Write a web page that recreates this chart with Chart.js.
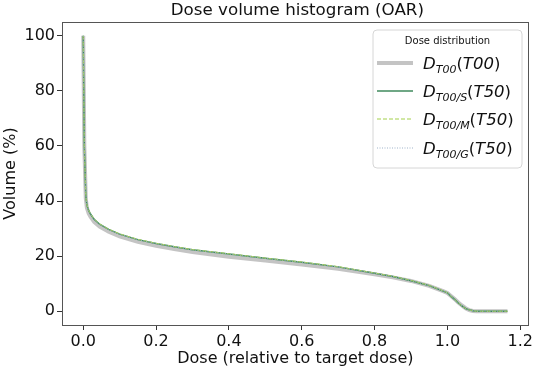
<!DOCTYPE html>
<html>
<head>
<meta charset="utf-8">
<script src="https://cdn.jsdelivr.net/npm/chart.js@4"></script>
<style>
  html, body { margin: 0; padding: 0; background: #fff; }
  #wrap { width: 535px; height: 371px; }
</style>
</head>
<body>
<div id="wrap"><canvas id="dvhChart" width="535" height="371"></canvas></div>
<script>
// dose (relative to target dose) and volume (%)
var dose   = [0, 0.003, 0.007, 0.01, 0.015, 0.02, 0.03, 0.045, 0.07, 0.1, 0.15, 0.2, 0.25, 0.3, 0.4, 0.5, 0.6, 0.7, 0.8, 0.85, 0.9, 0.95, 0.99, 1.0, 1.01, 1.02, 1.03, 1.04, 1.05, 1.06, 1.07, 1.08, 1.1, 1.165];
var volT00 = [100, 60, 41, 37.5, 35.5, 34.3, 32.4, 30.7, 28.9, 27.2, 25.2, 23.8, 22.6, 21.5, 19.8, 18.4, 17.0, 15.4, 13.4, 12.3, 11.0, 9.2, 7.2, 6.6, 5.5, 4.4, 3.2, 2.1, 1.1, 0.4, 0.1, 0, 0, 0];
var volS   = [100, 60, 42, 38.5, 36.5, 35.3, 33.4, 31.6, 29.7, 28.0, 26.0, 24.6, 23.4, 22.3, 20.8, 19.2, 17.8, 16.1, 13.8, 12.6, 11.1, 9.3, 7.2, 6.7, 5.4, 4.3, 3.0, 1.9, 1.0, 0.5, 0.2, 0, 0, 0];
var volM   = [100, 60, 42, 38.6, 36.6, 35.4, 33.5, 31.7, 29.8, 28.1, 26.1, 24.7, 23.5, 22.4, 20.9, 19.3, 17.9, 16.2, 13.9, 12.7, 11.2, 9.4, 7.3, 6.7, 5.4, 4.3, 3.0, 1.9, 1.0, 0.5, 0.2, 0, 0, 0];
var volG   = [100, 60, 42, 38.5, 36.5, 35.3, 33.4, 31.6, 29.7, 28.0, 26.0, 24.6, 23.4, 22.3, 20.8, 19.2, 17.8, 16.1, 13.8, 12.6, 11.1, 9.3, 7.2, 6.7, 5.4, 4.3, 3.0, 1.9, 1.0, 0.5, 0.2, 0, 0, 0];

var xTicks = [0, 0.2, 0.4, 0.6, 0.8, 1.0, 1.2];
var yTicks = [0, 20, 40, 60, 80, 100];

// legend entries: subscript and the bracketed label
var legendSubs = ['T00', 'T00/S', 'T00/M', 'T00/G'];
var legendArgs = ['T00', 'T50', 'T50', 'T50'];

function pts(ys) {
    return dose.map(function (d, i) { return { x: d, y: ys[i] }; });
}

var FONT = "'DejaVu Sans', sans-serif";

// title over the axes, box around the plot and the matplotlib-style legend
var framePlugin = {
    id: 'frame',
    afterDraw: function (chart) {
        var c = chart.ctx, a = chart.chartArea;
        c.save();
        c.fillStyle = '#111';
        c.font = '16.7px ' + FONT;
        c.textAlign = 'center';
        c.textBaseline = 'middle';
        c.fillText('Dose volume histogram (OAR)', (a.left + a.right) / 2 + 2, 11);

        c.strokeStyle = '#555';
        c.lineWidth = 1;
        c.strokeRect(Math.round(a.left) + 0.5, Math.round(a.top) + 0.5,
            Math.round(a.right - a.left) - 1, Math.round(a.bottom - a.top));

        // legend box
        var bx = 373, by = 30, bw = 149, bh = 138, r = 4;
        c.beginPath();
        c.moveTo(bx + r, by);
        c.arcTo(bx + bw, by, bx + bw, by + bh, r);
        c.arcTo(bx + bw, by + bh, bx, by + bh, r);
        c.arcTo(bx, by + bh, bx, by, r);
        c.arcTo(bx, by, bx + bw, by, r);
        c.closePath();
        c.fillStyle = 'rgba(255,255,255,0.85)';
        c.fill();
        c.strokeStyle = '#d6d6d6';
        c.stroke();

        c.fillStyle = '#111';
        c.font = '10px ' + FONT;
        c.fillText('Dose distribution', bx + bw / 2, 41);

        var rows = [63, 91, 119, 148];
        chart.data.datasets.forEach(function (ds, i) {
            var y = rows[i];
            c.save();
            c.strokeStyle = ds.borderColor;
            c.lineWidth = ds.borderWidth;
            c.setLineDash(ds.borderDash || []);
            c.beginPath();
            c.moveTo(377, y);
            c.lineTo(413, y);
            c.stroke();
            c.restore();

            var x = 423, base = y + 6;
            c.textAlign = 'left';
            c.textBaseline = 'alphabetic';
            c.font = 'italic 16.5px ' + FONT;
            c.fillText('D', x, base);
            x += c.measureText('D').width;
            c.font = 'italic 11px ' + FONT;
            c.fillText(legendSubs[i], x, base + 4);
            x += c.measureText(legendSubs[i]).width;
            c.font = '16.5px ' + FONT;
            c.fillText('(', x, base);
            x += c.measureText('(').width;
            c.font = 'italic 16.5px ' + FONT;
            c.fillText(legendArgs[i], x, base);
            x += c.measureText(legendArgs[i]).width;
            c.font = '16.5px ' + FONT;
            c.fillText(')', x, base);
        });
        c.restore();
    }
};

var ctx = document.getElementById('dvhChart').getContext('2d');
var chart = new Chart(ctx, {
    type: 'line',
    data: {
        datasets: [{
            label: 'T00',
            data: pts(volT00),
            borderColor: 'rgba(190,190,190,0.9)',
            borderWidth: 4,
            order: 4
        }, {
            label: 'T00/S',
            data: pts(volS),
            borderColor: '#3f8a5c',
            borderWidth: 1.5,
            order: 3
        }, {
            label: 'T00/M',
            data: pts(volM),
            borderColor: '#a3d04a',
            borderWidth: 1,
            borderDash: [4, 2],
            order: 2
        }, {
            label: 'T00/G',
            data: pts(volG),
            borderColor: '#9fb3c9',
            borderWidth: 1,
            borderDash: [1, 1.5],
            order: 1
        }]
    },
    options: {
        responsive: false,
        animation: false,
        devicePixelRatio: 1,
        elements: { point: { radius: 0 }, line: { tension: 0, fill: false } },
        layout: { padding: { left: 0, right: 5, top: 22, bottom: 0 } },
        plugins: {
            legend: { display: false },
            tooltip: { enabled: false },
            title: { display: false }
        },
        scales: {
            x: {
                type: 'linear',
                min: -0.0583,
                max: 1.2233,
                afterBuildTicks: function (s) { s.ticks = xTicks.map(function (v) { return { value: v }; }); },
                afterFit: function (s) { s.height = 46; },
                grid: { drawOnChartArea: false, drawTicks: true, tickLength: 5, color: '#333' },
                border: { display: false },
                ticks: {
                    color: '#111',
                    padding: 2,
                    maxRotation: 0,
                    font: { family: FONT, size: 16 },
                    callback: function (v) { return Number(v).toFixed(1); }
                },
                title: {
                    display: true,
                    text: 'Dose (relative to target dose)',
                    color: '#111',
                    font: { family: FONT, size: 16 },
                    padding: { top: 0, bottom: 3 }
                }
            },
            y: {
                min: -5,
                max: 105,
                afterBuildTicks: function (s) { s.ticks = yTicks.map(function (v) { return { value: v }; }); },
                afterFit: function (s) { s.width = 62; },
                grid: { drawOnChartArea: false, drawTicks: true, tickLength: 5, color: '#333' },
                border: { display: false },
                ticks: {
                    color: '#111',
                    padding: 2,
                    font: { family: FONT, size: 16 },
                    callback: function (v) { return String(v); }
                },
                title: {
                    display: true,
                    text: 'Volume (%)',
                    color: '#111',
                    font: { family: FONT, size: 16 },
                    padding: { top: 1, bottom: 0 }
                }
            }
        }
    },
    plugins: [framePlugin]
});
</script>
</body>
</html>
